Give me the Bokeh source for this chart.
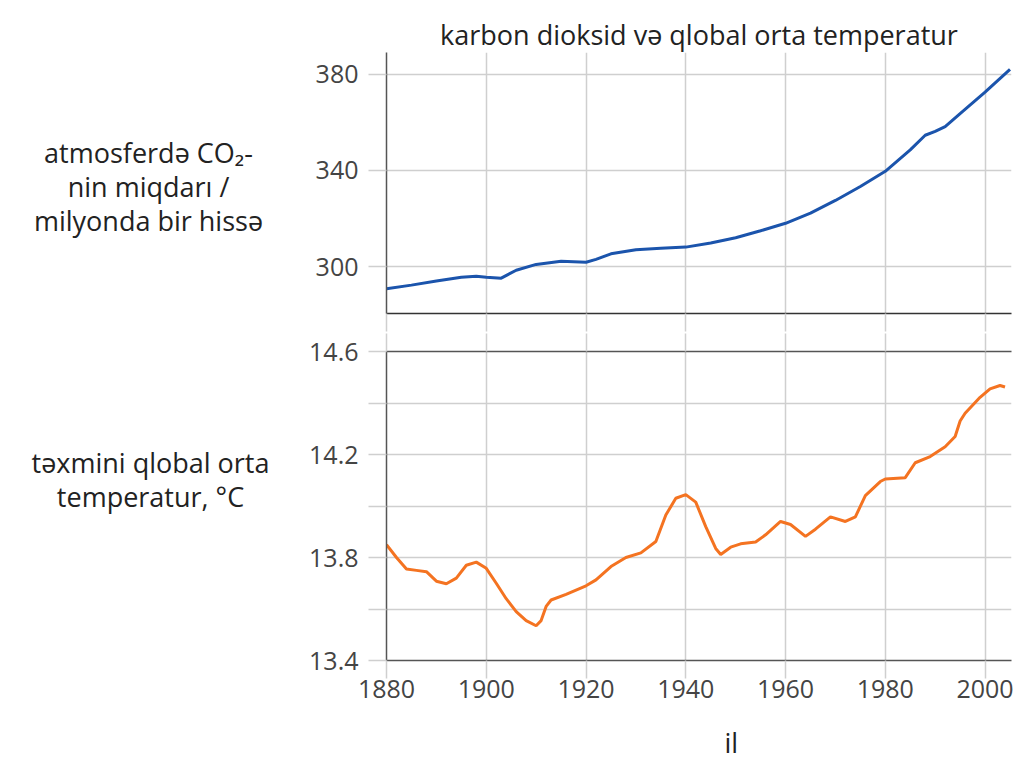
from bokeh.plotting import figure
from bokeh.models import Range1d, FixedTicker, LinearAxis, Title
from bokeh.layouts import column, row
from bokeh.core.properties import value
from bokeh.embed import file_html
from bokeh.resources import INLINE

# ---- data ----
co2_years = [1880, 1885, 1890, 1895, 1898, 1900, 1903, 1906, 1910, 1915, 1920, 1922,
             1925, 1930, 1935, 1940, 1945, 1950, 1955, 1960, 1965, 1970, 1975, 1980,
             1985, 1988, 1990, 1992, 1995, 2000, 2005]
co2_ppm = [290.8, 292.3, 294.0, 295.6, 296.0, 295.6, 295.2, 298.5, 300.9, 302.2, 301.8, 303.0,
           305.3, 307.0, 307.6, 308.1, 309.8, 312.0, 314.9, 318.0, 322.2, 327.5, 333.3, 339.6,
           348.5, 354.6, 356.2, 358.2, 363.6, 372.5, 382.0]

temp_years = [1880, 1882, 1884, 1886, 1888, 1890, 1892, 1894, 1896, 1898, 1900, 1902,
              1904, 1906, 1908, 1910, 1911, 1912, 1913, 1916, 1920, 1922, 1925, 1928,
              1931, 1934, 1936, 1938, 1940, 1942, 1944, 1946, 1947, 1949, 1951, 1954,
              1956, 1959, 1961, 1964, 1966, 1969, 1972, 1974, 1976, 1979, 1980, 1984,
              1986, 1989, 1992, 1994, 1995, 1996, 1999, 2001, 2003, 2004]
temp_c = [13.85, 13.80, 13.755, 13.75, 13.745, 13.708, 13.698, 13.72, 13.77, 13.782, 13.758, 13.70,
          13.64, 13.59, 13.555, 13.535, 13.555, 13.61, 13.635, 13.657, 13.69, 13.713, 13.765, 13.80,
          13.818, 13.862, 13.965, 14.03, 14.044, 14.015, 13.92, 13.835, 13.812, 13.84, 13.853, 13.86,
          13.888, 13.94, 13.928, 13.882, 13.91, 13.958, 13.94, 13.958, 14.04, 14.095, 14.105, 14.11,
          14.168, 14.192, 14.23, 14.27, 14.33, 14.36, 14.422, 14.455, 14.468, 14.462]

year_ticks = [1880, 1900, 1920, 1940, 1960, 1980, 2000]
co2_ticks = [300, 340, 380]
temp_major_ticks = [13.4, 13.8, 14.2, 14.6]
temp_minor_ticks = [13.6, 14.0, 14.4]

title_text = "karbon dioksid və qlobal orta temperatur"
co2_label_lines = ["atmosferdə CO₂-", "nin miqdarı /", "milyonda bir hissə"]
temp_label_lines = ["təxmini qlobal orta", "temperatur, °C"]
x_label = "il"

FONT = "Open Sans"
GRID = "#cfcfcf"
AXIS = "#555555"
TICKTXT = "#444444"
TXT = "#222222"
TICK_FS = "25px"
LABEL_FS = "27px"

LW = 290          # width of the left label column
W = 1025 - LW     # width of each plot
H1 = 332
H2 = 431
LINE_GAP = 34


def style_axis(ax, labels=True):
    ax.axis_line_color = AXIS
    ax.axis_line_width = 1.5
    ax.major_tick_line_color = GRID
    ax.major_tick_line_width = 1.5
    ax.major_tick_out = 18
    ax.major_tick_in = 0
    ax.minor_tick_line_color = None
    if labels:
        ax.major_label_text_font = FONT
        ax.major_label_text_font_size = TICK_FS
        ax.major_label_text_color = TICKTXT
        ax.major_label_standoff = 10
    else:
        ax.major_label_text_font_size = "1px"
        ax.major_label_text_color = None
        ax.major_label_standoff = 0


# ---- left column with the two axis titles ----
pl = figure(width=LW, height=H1 + H2, x_range=Range1d(0, LW), y_range=Range1d(H1 + H2, 0),
            min_border=0, output_backend="svg", toolbar_location=None)
pl.axis.visible = False
pl.grid.visible = False
pl.outline_line_color = None
co2_y = [152 + i * LINE_GAP for i in range(len(co2_label_lines))]
temp_y = [462 + i * LINE_GAP for i in range(len(temp_label_lines))]
pl.text(x=[148] * len(co2_label_lines), y=co2_y, text=co2_label_lines,
        text_font=value(FONT), text_font_size=value(LABEL_FS), text_color=TXT,
        text_align="center", text_baseline="alphabetic")
pl.text(x=[150] * len(temp_label_lines), y=temp_y, text=temp_label_lines,
        text_font=value(FONT), text_font_size=value(LABEL_FS), text_color=TXT,
        text_align="center", text_baseline="alphabetic")

# ---- top panel: CO2 ----
p1 = figure(width=W, height=H1, x_range=Range1d(1880, 2005.3), y_range=Range1d(280.5, 389),
            min_border_left=386 - LW, min_border_right=14, min_border_top=52, min_border_bottom=19,
            output_backend="svg", toolbar_location=None, title=title_text)
p1.title.align = "center"
p1.title.text_font = FONT
p1.title.text_font_size = "27px"
p1.title.text_font_style = "normal"
p1.title.text_color = TXT
p1.title.standoff = 0
p1.outline_line_color = None
p1.xaxis.ticker = FixedTicker(ticks=year_ticks)
p1.yaxis.ticker = FixedTicker(ticks=co2_ticks)
style_axis(p1.xaxis[0], labels=False)
style_axis(p1.yaxis[0], labels=True)
p1.xaxis.axis_line_color = "#333333"
p1.xgrid.ticker = FixedTicker(ticks=year_ticks)
p1.ygrid.ticker = FixedTicker(ticks=co2_ticks)
for g in (p1.xgrid[0], p1.ygrid[0]):
    g.grid_line_color = GRID
    g.grid_line_width = 1.5
p1.line(co2_years, co2_ppm, line_color="#1b54ac", line_width=3)

# ---- bottom panel: temperature ----
p2 = figure(width=W, height=H2, x_range=p1.x_range, y_range=Range1d(13.4, 14.6),
            min_border_left=386 - LW, min_border_right=14, min_border_top=19,
            min_border_bottom=H2 - (660 - H1),
            output_backend="svg", toolbar_location=None)
p2.outline_line_color = None
temp_ticker = FixedTicker(ticks=temp_major_ticks, minor_ticks=temp_minor_ticks)
p2.xaxis.ticker = FixedTicker(ticks=year_ticks)
p2.yaxis.ticker = temp_ticker
style_axis(p2.xaxis[0], labels=True)
style_axis(p2.yaxis[0], labels=True)
p2.yaxis.minor_tick_line_color = GRID
p2.yaxis.minor_tick_line_width = 1.5
p2.yaxis.minor_tick_out = 18
p2.yaxis.minor_tick_in = 0
p2.xaxis.major_label_standoff = 1
top_ax = LinearAxis(ticker=FixedTicker(ticks=year_ticks))
style_axis(top_ax, labels=False)
p2.add_layout(top_ax, "above")
# white (invisible) spacer axis below the year labels, then the x-axis title
spacer = LinearAxis(ticker=FixedTicker(ticks=[1890, 1910, 1930]), axis_line_color=None,
                    major_tick_line_color="white", minor_tick_line_color=None,
                    major_tick_out=23, major_tick_in=0, major_label_text_color=None,
                    major_label_text_font_size="1px", major_label_standoff=0)
p2.add_layout(spacer, "below")
p2.add_layout(Title(text=x_label, align="left", offset=338, standoff=0, vertical_align="top",
                    text_font=FONT, text_font_size=LABEL_FS, text_font_style="normal",
                    text_color=TXT), "below")
p2.xgrid.ticker = FixedTicker(ticks=year_ticks)
p2.ygrid.ticker = temp_ticker
for g in (p2.xgrid[0], p2.ygrid[0]):
    g.grid_line_color = GRID
    g.grid_line_width = 1.5
p2.ygrid.minor_grid_line_color = GRID
p2.ygrid.minor_grid_line_width = 1.5
p2.line(temp_years, temp_c, line_color="#f47321", line_width=3)

layout = row(pl, column(p1, p2, spacing=0), spacing=0)
open("out.html", "w").write(file_html(layout, INLINE))
